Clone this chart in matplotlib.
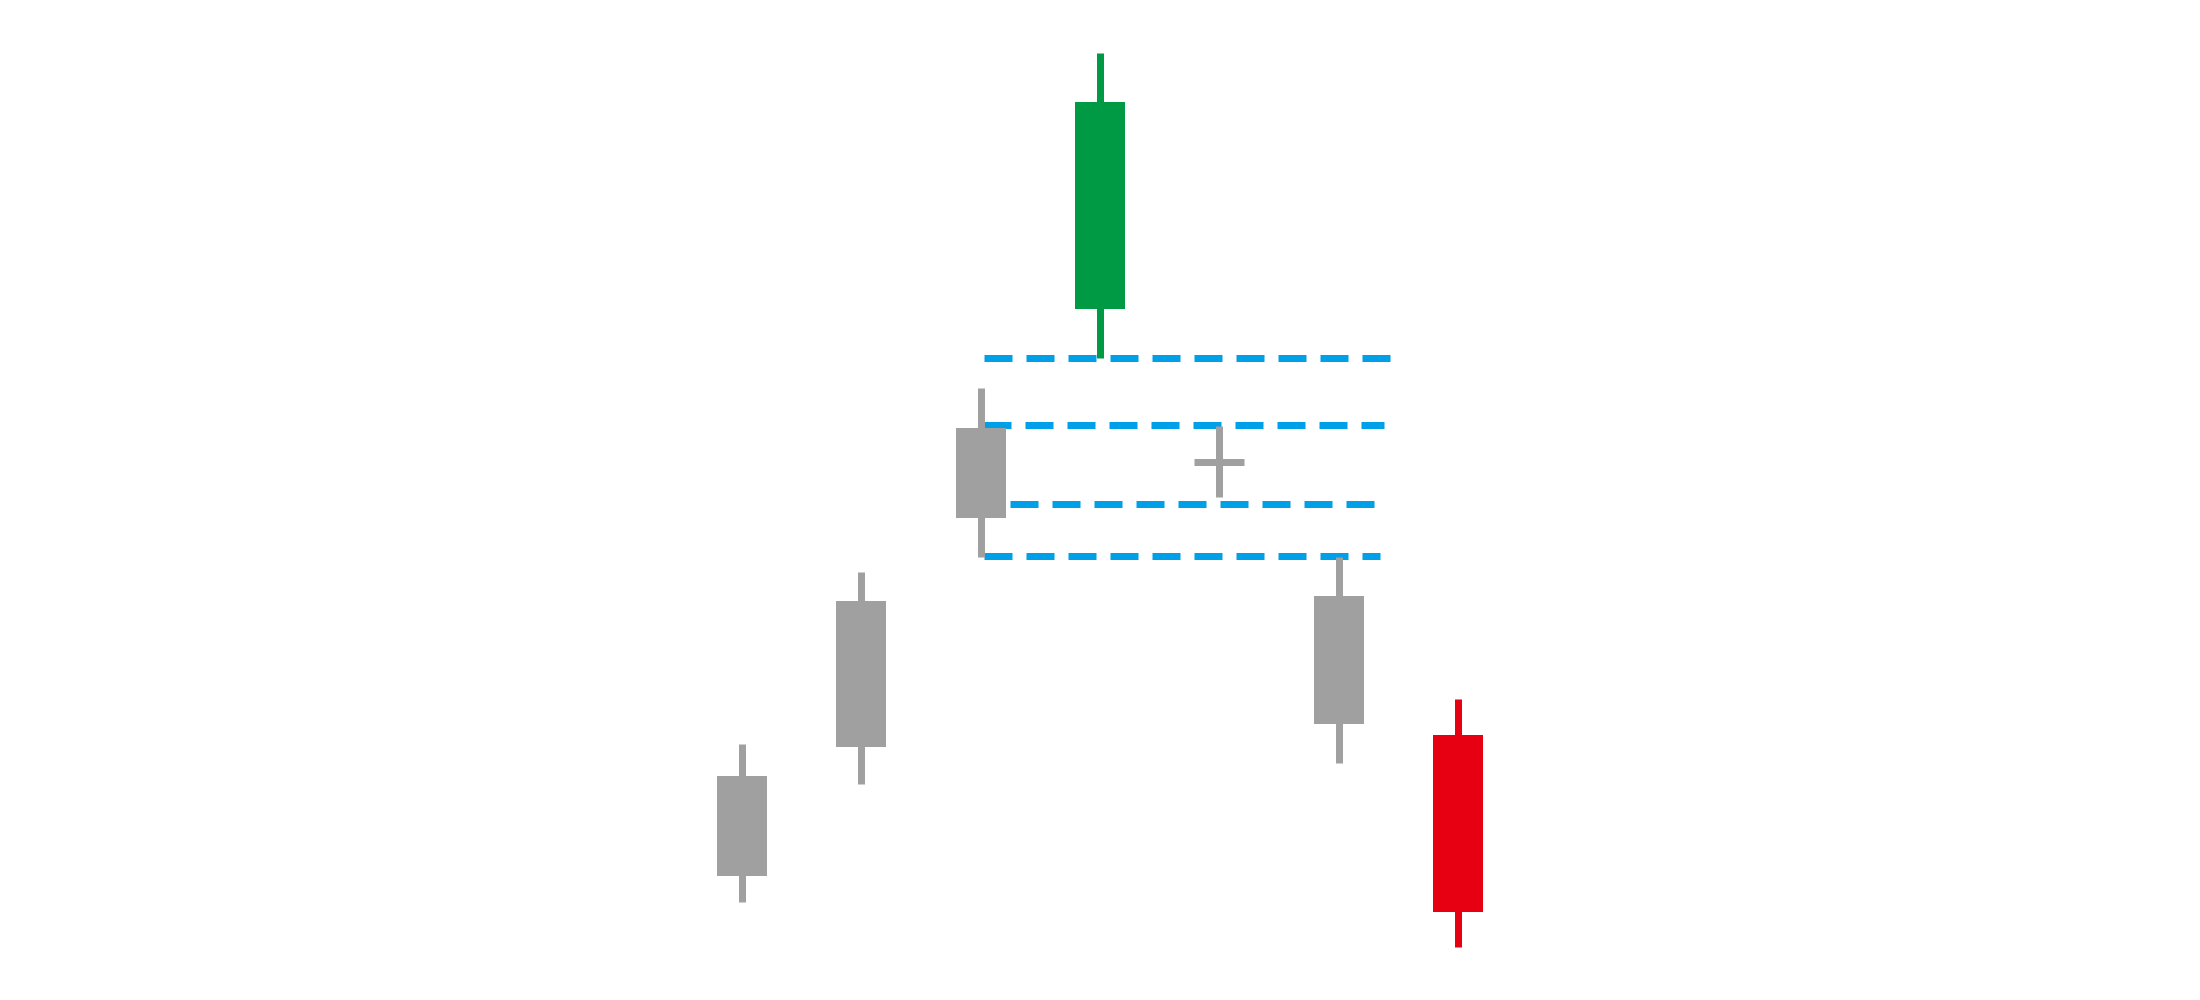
import matplotlib
matplotlib.use("Agg")
import matplotlib.pyplot as plt

# ---- data ----
candle_index = [0, 1, 2, 3, 4, 5, 6]
opens  = [12.4, 25.3, 48.2, 69.1, 53.85, 40.4, 26.5]
closes = [22.4, 39.9, 57.2, 89.8, 53.85, 27.6, 8.8]
highs  = [25.6, 42.8, 61.2, 94.7, 57.4, 44.3, 30.1]
lows   = [9.8, 21.6, 44.3, 64.2, 50.3, 23.7, 5.3]
candle_colors = ["#A0A0A0", "#A0A0A0", "#A0A0A0", "#009944",
                 "#A0A0A0", "#A0A0A0", "#E60012"]

# dashed reference levels (value, x start, x end in candle-index units)
level_values = [64.2, 57.55, 49.6, 44.45]
level_starts = [2.028, 2.019, 2.247, 2.028]
level_ends   = [5.442, 5.382, 5.313, 5.344]
level_color = "#00A0E9"

# ---- figure ----
fig = plt.figure(figsize=(22, 10), dpi=100)
ax = fig.add_axes([0, 0, 1, 1])
ax.set_xlim(3 - 9.222, 3 + 9.222)
ax.set_ylim(0, 100)
ax.axis("off")

px = 0.72  # points per pixel at dpi 100
wick_lw = 7 * px
body_w = 50 / 119.3

# dashed lines (drawn beneath candles)
for v, x0, x1 in zip(level_values, level_starts, level_ends):
    ax.plot([x0, x1], [v, v], color=level_color, lw=7 * px,
            linestyle=(0, (28 / 7, 14 / 7)), dash_capstyle="butt",
            solid_capstyle="butt", zorder=1)

for i, o, c, h, l, col in zip(candle_index, opens, closes, highs, lows, candle_colors):
    ax.vlines(i, l, h, color=col, lw=wick_lw, capstyle="butt", zorder=2)
    if abs(c - o) < 1e-9:
        ax.hlines(o, i - body_w / 2, i + body_w / 2, color=col, lw=wick_lw,
                  capstyle="butt", zorder=3)
    else:
        ax.bar(i, abs(c - o), bottom=min(o, c), width=body_w, color=col,
               linewidth=0, zorder=3)

fig.savefig("out.png", dpi=100, facecolor="white")
